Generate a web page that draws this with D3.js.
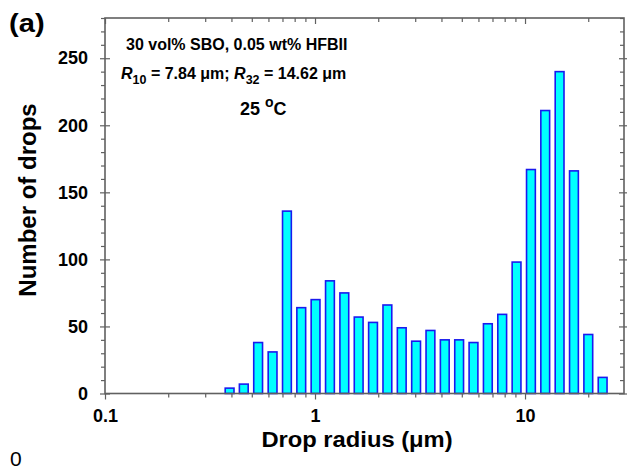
<!DOCTYPE html>
<html>
<head>
<meta charset="utf-8">
<script src="https://cdn.jsdelivr.net/npm/d3@7"></script>
<style>
  html, body { margin: 0; padding: 0; background: #ffffff; }
  svg { display: block; }
  text { font-family: "Liberation Sans", Arial, Helvetica, sans-serif; }
</style>
</head>
<body>
<svg id="chart" width="627" height="471"></svg>
<script>
// ---- data ----
const radius = [0.392, 0.458, 0.536, 0.628, 0.735, 0.860, 1.006, 1.178, 1.379, 1.614,
                1.889, 2.211, 2.588, 3.029, 3.545, 4.149, 4.856, 5.684, 6.652, 7.786,
                9.113, 10.67, 12.48, 14.61, 17.10, 20.01, 23.42];
const counts = [4, 7, 38, 31, 136, 64, 70, 84, 75, 57,
                53, 66, 49, 39, 47, 40, 40, 38, 52, 59,
                98, 167, 211, 240, 166, 44, 12];
const xTickValues = [0.1, 1, 10];
const xTickLabels = ["0.1", "1", "10"];
const yTickValues = [0, 50, 100, 150, 200, 250];
const xDomain = [0.1, 29.6];
const yDomain = [0, 280];

// ---- layout ----
const L = 105, R = 624, T = 18, B = 393.5;
const svg = d3.select("#chart");
const x = d3.scaleLog().domain(xDomain).range([L, R]);
const y = d3.scaleLinear().domain(yDomain).range([B, T]);

const axisColor = "#606060";

// bars
const data = radius.map((r, i) => ({ r, c: counts[i] }));
const ratio = radius[1] / radius[0];
const half = Math.pow(ratio, 0.31);
svg.append("g").selectAll("rect").data(data).join("rect")
  .attr("x", d => x(d.r / half))
  .attr("width", d => x(d.r * half) - x(d.r / half))
  .attr("y", d => y(d.c))
  .attr("height", d => y(0) - y(d.c))
  .attr("fill", "#00ffff")
  .attr("stroke", "#1a1aee")
  .attr("stroke-width", 1.6);

// axes
const minorX = [];
[0.1, 1, 10].forEach(dec => { for (let k = 2; k <= 9; k++) { const v = dec * k; if (v <= xDomain[1]) minorX.push(v); } });
const minorY = d3.range(10, 281, 10).filter(v => v % 50 !== 0);

const bottom = d3.axisBottom(x).tickValues(xTickValues).tickFormat((d, i) => xTickLabels[i]).tickSize(6).tickPadding(10);
const gB = svg.append("g").attr("transform", `translate(0,${B})`).call(bottom);
const gBm = svg.append("g").attr("transform", `translate(0,${B})`)
  .call(d3.axisBottom(x).tickValues(minorX).tickFormat("").tickSize(4));

const left = d3.axisLeft(y).tickValues(yTickValues).tickSize(5).tickPadding(12);
const gL = svg.append("g").attr("transform", `translate(${L},0)`).call(left);
const gLm = svg.append("g").attr("transform", `translate(${L},0)`)
  .call(d3.axisLeft(y).tickValues(minorY).tickFormat("").tickSize(4));
gL.selectAll(".tick line").attr("x1", 5);

const gT = svg.append("g").attr("transform", `translate(0,${T})`)
  .call(d3.axisBottom(x).tickValues(xTickValues).tickFormat("").tickSize(6));
const gTm = svg.append("g").attr("transform", `translate(0,${T})`)
  .call(d3.axisBottom(x).tickValues(minorX).tickFormat("").tickSize(4));

const gR = svg.append("g").attr("transform", `translate(${R},0)`)
  .call(d3.axisLeft(y).tickValues(yTickValues).tickFormat("").tickSize(5));
gR.selectAll(".tick line").attr("x1", 4);
const gRm = svg.append("g").attr("transform", `translate(${R},0)`)
  .call(d3.axisLeft(y).tickValues(minorY).tickFormat("").tickSize(4));

[gB, gBm, gL, gLm, gT, gTm, gR, gRm].forEach(g => {
  g.selectAll(".domain").remove();
  g.selectAll(".tick line").attr("stroke", axisColor).attr("stroke-width", 1.2);
  g.selectAll(".tick text").attr("fill", "#000").attr("font-size", 18).attr("font-weight", "bold")
    .attr("font-family", '"Liberation Sans", Arial, sans-serif');
});
// frame
svg.append("rect").attr("x", L).attr("y", T).attr("width", R - L).attr("height", B - T)
  .attr("fill", "none").attr("stroke", axisColor).attr("stroke-width", 1.6);

// labels
svg.append("text").attr("transform", "translate(9,32) scale(1.12,1)")
  .attr("font-size", 26).attr("font-weight", "bold").text("(a)");

svg.append("text").attr("x", 126).attr("y", 50).attr("font-size", 16).attr("font-weight", "bold")
  .text("30 vol% SBO, 0.05 wt% HFBII");

const t2 = svg.append("text").attr("x", 121).attr("y", 79).attr("font-size", 16).attr("font-weight", "bold");
t2.append("tspan").attr("font-style", "italic").text("R");
t2.append("tspan").attr("font-size", 12.5).attr("dy", 5).text("10");
t2.append("tspan").attr("dy", -5).text(" = 7.84 \u03bcm; ");
t2.append("tspan").attr("font-style", "italic").text("R");
t2.append("tspan").attr("font-size", 12.5).attr("dy", 5).text("32");
t2.append("tspan").attr("dy", -5).text(" = 14.62 \u03bcm");

const t3 = svg.append("text").attr("x", 240).attr("y", 115).attr("font-size", 18).attr("font-weight", "bold");
t3.append("tspan").text("25 ");
t3.append("tspan").attr("font-size", 14).attr("dy", -8).text("o");
t3.append("tspan").attr("dy", 8).text("C");

svg.append("text").attr("transform", "translate(36,200) rotate(-90)").attr("text-anchor", "middle")
  .attr("font-size", 24).attr("font-weight", "bold").text("Number of drops");

svg.append("text").attr("transform", "translate(357,447) scale(1.08,1)").attr("text-anchor", "middle")
  .attr("font-size", 22).attr("font-weight", "bold").text("Drop radius (\u03bcm)");

svg.append("text").attr("x", 10).attr("y", 466).attr("font-size", 21).text("0");
</script>
</body>
</html>
